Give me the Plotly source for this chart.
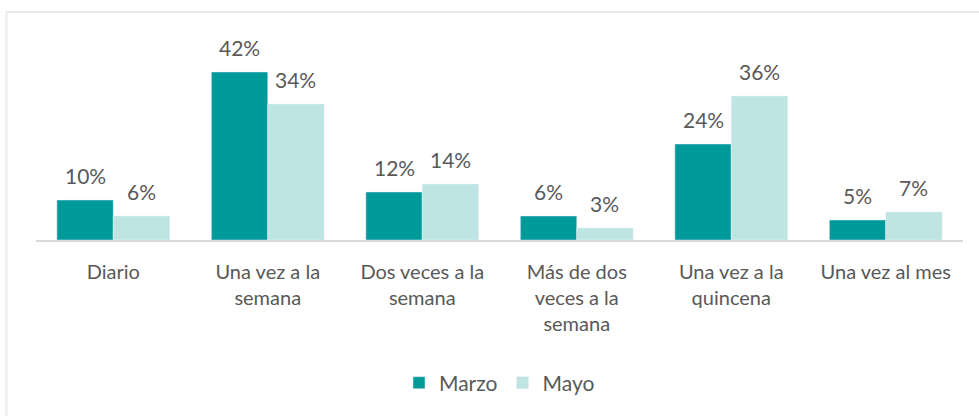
import plotly.graph_objects as go

categories = ["Diario", "Una vez a la<br>semana", "Dos veces a la<br>semana",
              "Más de dos<br>veces a la<br>semana", "Una vez a la<br>quincena", "Una vez al mes"]
marzo = [10, 42, 12, 6, 24, 5]
mayo = [6, 34, 14, 3, 36, 7]

FONT = "Lato, Open Sans, sans-serif"
TXT = "#595959"
ML, MR, MT, MB, W, H = 36, 16, 40, 176, 979, 416
BARGAP = 0.27

fig = go.Figure()
fig.add_trace(go.Bar(name="Marzo", x=categories, y=marzo, marker_color="#009999"))
fig.add_trace(go.Bar(name="Mayo", x=categories, y=mayo, marker_color="#bfe5e3"))

# value labels placed above each bar (offset derived from the group layout)
plot_w = W - ML - MR
bar_w = plot_w / len(categories) * (1 - BARGAP) / 2
annotations = []
for series, sign in ((marzo, -1), (mayo, 1)):
    for c, v in zip(categories, series):
        annotations.append(dict(x=c, y=v, xref="x", yref="y", text=f"{v}%",
                                showarrow=False, xshift=sign * bar_w / 2, yshift=25,
                                yanchor="middle", font=dict(size=21, color=TXT)))

fig.update_layout(
    width=W, height=H,
    margin=dict(l=ML, r=MR, t=MT, b=MB),
    paper_bgcolor="white", plot_bgcolor="white",
    font=dict(family=FONT, size=21, color=TXT),
    barmode="group", bargap=BARGAP, bargroupgap=0,
    xaxis=dict(showline=True, linecolor="#d9d9d9", linewidth=1.5, ticks="",
               tickfont=dict(size=20, color=TXT), ticklabelstandoff=13),
    yaxis=dict(range=[0, 50], visible=False, showgrid=False),
    legend=dict(orientation="h", x=0.5, xanchor="center", y=-0.715, yanchor="middle",
                font=dict(size=21, color=TXT), itemwidth=30),
    showlegend=True,
    annotations=annotations,
    shapes=[dict(type="rect", xref="paper", yref="paper",
                 x0=(6.5 - ML) / plot_w, x1=(990 - ML) / plot_w,
                 y0=(240 - 430) / 200, y1=(240 - 12) / 200,
                 line=dict(color="#ececec", width=2), layer="below")],
)

fig.write_html("out.html", config={"displayModeBar": False},
               post_script="document.body.style.margin='0';")
